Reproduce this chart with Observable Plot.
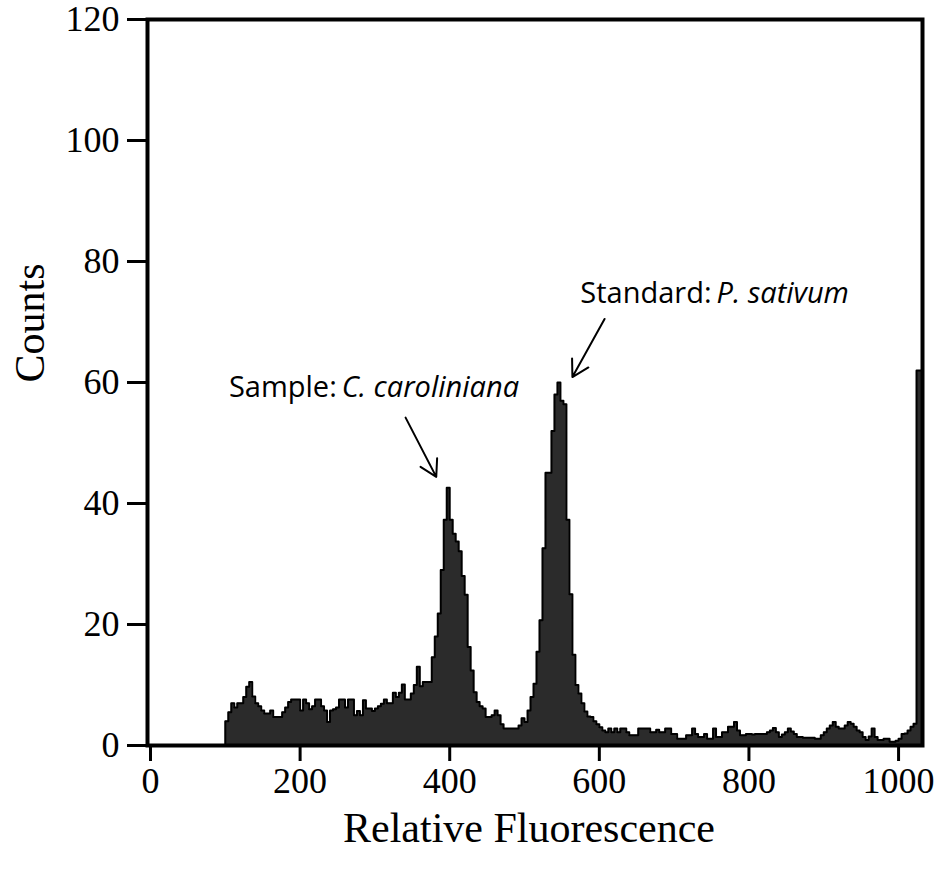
<!DOCTYPE html>
<html>
<head>
<meta charset="utf-8">
<script src="https://cdn.jsdelivr.net/npm/d3@7"></script>
<script src="https://cdn.jsdelivr.net/npm/@observablehq/plot@0.6"></script>
<style>
  html, body { margin: 0; padding: 0; background: #fff; }
  #chart { width: 941px; height: 871px; }
</style>
</head>
<body>
<div id="chart"></div>
<script>
// Channel width of each histogram bin (relative fluorescence units)
const binWidth = 4;
// Counts per bin, starting at channel 0
const counts = [
  0,0,0,0,0,0,0,0,0,0,
  0,0,0,0,0,0,0,0,0,0,
  0,0,0,0,0,4.0,5.5,7.0,6.3,7.0,
  7.0,8.0,9.7,10.5,8.1,7.0,6.5,5.8,5.3,5.3,
  5.8,4.7,4.7,4.7,5.5,6.3,7.2,7.6,7.6,7.6,
  5.8,7.6,7.0,6.0,6.5,7.6,7.6,6.5,5.8,3.9,
  5.8,6.0,6.3,7.6,7.6,6.3,7.6,7.6,5.0,5.7,
  5.0,7.5,6.1,6.1,5.7,6.1,6.5,6.9,7.6,7.0,
  7.0,8.7,8.0,8.7,10.1,7.6,7.6,8.6,10.0,13.0,
  9.8,10.5,10.5,10.5,14.6,18.0,21.8,29.0,37.3,42.6,
  37.3,35.0,33.7,32.1,28.0,24.9,16.3,12.4,8.8,7.2,
  6.5,6.1,4.7,4.7,5.0,5.8,5.0,3.5,2.8,2.8,
  2.8,2.8,2.8,3.3,4.5,3.9,5.8,8.0,10.2,15.5,
  20.7,32.6,45.1,45.1,52.0,58.0,60.0,57.0,56.4,37.3,
  25.0,15.0,10.0,8.6,7.0,5.6,4.8,4.7,4.0,3.5,
  3.0,2.5,2.2,2.8,2.2,2.8,2.2,2.8,2.8,2.2,
  1.7,1.7,1.7,2.8,2.8,2.8,2.8,2.2,2.2,2.6,
  2.2,2.2,2.8,2.8,1.9,1.9,1.1,1.1,1.1,1.7,
  1.7,2.8,1.9,1.4,1.4,1.9,1.1,1.1,2.8,1.4,
  1.4,2.2,2.2,3.1,3.1,3.9,2.5,1.7,1.7,1.9,
  1.9,1.8,1.9,1.9,1.9,1.9,2.2,2.5,2.9,2.2,
  1.4,1.8,2.2,2.8,2.3,1.9,1.4,1.4,1.3,1.3,
  1.3,1.3,1.1,1.1,1.7,2.2,2.8,3.3,3.9,3.1,
  2.8,2.8,3.3,3.9,3.6,3.1,2.5,2.2,1.4,0.9,
  1.5,2.8,1.4,0.9,0.9,1.1,1.1,0.6,0.6,0.8,
  1.1,1.9,2.0,2.5,3.1,3.6,62,62
];
const xTicks = [0, 200, 400, 600, 800, 1000];
const yTicks = [0, 20, 40, 60, 80, 100, 120];
const xLabel = "Relative Fluorescence";
const yLabel = "Counts";
// Annotations: plain prefix, italic species name, text anchor point
const annPrefix = ["Sample:", "Standard:"];
const annSpecies = ["C. caroliniana", "P. sativum"];
const annX = [249, 750];
const annY = [59.2, 74.6];
// Arrows pointing to the peaks
const arrowX1 = [341, 607];
const arrowY1 = [54.2, 70.5];
const arrowX2 = [382, 564];
const arrowY2 = [44.4, 60.9];

const outline = counts.map((c, i) => ({x: i * binWidth, y: c}));
outline.push({x: counts.length * binWidth, y: counts[counts.length - 1]});
const ann = annPrefix.map((p, i) => ({prefix: p, species: annSpecies[i], x: annX[i], y: annY[i]}));
const arrows = arrowX1.map((d, i) => ({x1: d, y1: arrowY1[i], x2: arrowX2[i], y2: arrowY2[i]}));
const annFont = "'Open Sans', Lato, sans-serif";

const chart = Plot.plot({
  width: 941,
  height: 871,
  marginLeft: 147,
  marginRight: 19,
  marginTop: 19,
  marginBottom: 126,
  style: {fontFamily: "'Liberation Serif', 'Times New Roman', serif", background: "white", color: "black"},
  x: {domain: [-4, 1032]},
  y: {domain: [0, 120]},
  marks: [
    Plot.areaY(outline, {x: "x", y: "y", curve: "step-after", fill: "#2b2b2b"}),
    Plot.line(outline, {x: "x", y: "y", curve: "step-after", stroke: "black", strokeWidth: 2}),
    Plot.axisY({ticks: yTicks, tickFormat: d3.format("d"), tickSize: 20, tickPadding: 8, fontSize: 36, strokeWidth: 3, label: null}),
    Plot.axisX({ticks: xTicks, tickFormat: d3.format("d"), tickSize: 16, tickPadding: 6, fontSize: 36, strokeWidth: 3, label: null}),
    Plot.text([xLabel], {frameAnchor: "bottom", dy: 83, dx: -6, fontSize: 42, lineAnchor: "middle"}),
    Plot.text([yLabel], {frameAnchor: "left", dx: -117, rotate: -90, fontSize: 42, lineAnchor: "middle"}),
    Plot.text(ann, {x: "x", y: "y", text: "prefix", textAnchor: "end", fontSize: 29, fontFamily: annFont, lineAnchor: "middle"}),
    Plot.text(ann, {x: "x", y: "y", text: "species", textAnchor: "start", dx: 5, fontSize: 29, fontStyle: "italic", fontFamily: annFont, lineAnchor: "middle"}),
    Plot.arrow(arrows, {x1: "x1", y1: "y1", x2: "x2", y2: "y2", stroke: "black", strokeWidth: 2, headLength: 14}),
    Plot.frame({stroke: "black", strokeWidth: 4})
  ]
});
document.getElementById("chart").appendChild(chart);
</script>
</body>
</html>
